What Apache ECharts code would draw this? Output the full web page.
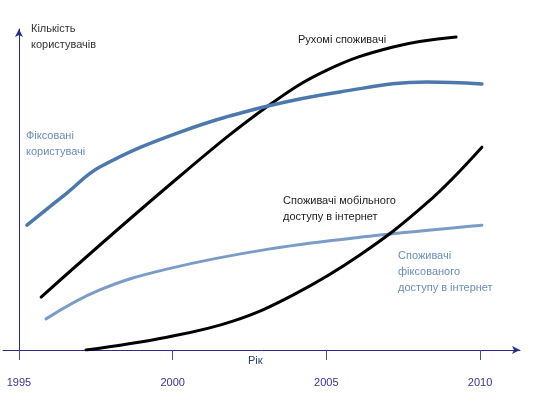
<!DOCTYPE html>
<html><head><meta charset="utf-8">
<script src="https://cdn.jsdelivr.net/npm/echarts@6/dist/echarts.min.js"></script>
<style>html,body{margin:0;padding:0;background:#fff}#c{width:539px;height:398px}</style>
</head><body><div id="c"></div>
<script>
const BASE_YEAR = 1995;
const tickYears = [1995, 2000, 2005, 2010];

// Рухомі споживачі
const mobileYears = [1995.72, 2000.24, 2003.10, 2005.02, 2007.17, 2009.22];
const mobileUsers = [16.5, 54.2, 76.0, 87.2, 94.4, 97.5];

// Фіксовані користувачі
const fixedYears = [1995.26, 1996.56, 1997.63, 2000.24, 2003.10, 2005.44, 2008.27, 2010.06];
const fixedUsers = [38.9, 48.9, 57.0, 67.9, 76.0, 80.4, 83.5, 82.9];

// Споживачі фіксованого доступу в інтернет
const fixedNetYears = [1995.88, 1997.63, 1999.81, 2003.17, 2006.75, 2010.06];
const fixedNetUsers = [9.7, 18.7, 25.2, 31.5, 35.8, 38.9];

// Споживачі мобільного доступу в інтернет
const mobileNetYears = [1997.18, 1999.81, 2001.96, 2003.91, 2006.09, 2008.27, 2010.06];
const mobileNetUsers = [0, 4.0, 9.0, 17.1, 29.6, 45.8, 63.2];

const toPts = (xs, ys) => xs.map((x, i) => [x - BASE_YEAR, ys[i]]);

const FONT = 'Liberation Sans, Arial, sans-serif';
const AXIS = '#2b2b8f';
const FS = '11px ';

const lineSeries = (xs, ys, color, width) => ({
  type: 'line', data: toPts(xs, ys), smooth: 0.4, showSymbol: false,
  lineStyle: {color: color, width: width, cap: 'round'}
});

const chart = echarts.init(document.getElementById('c'), null, {renderer: 'canvas'});
chart.setOption({
  animation: false,
  grid: {left: 3, right: 19, top: 29, bottom: 48},
  xAxis: {
    type: 'value', min: -0.52, max: 16.30,
    splitLine: {show: false},
    axisLine: {onZero: true, symbol: ['none', 'arrow'], symbolSize: [6, 8], lineStyle: {color: AXIS, width: 1}},
    axisTick: {show: true, length: 10, lineStyle: {color: '#4a4a9a'}, customValues: tickYears.map(y => y - BASE_YEAR)},
    axisLabel: {show: true, margin: 27, color: '#33339a', fontFamily: FONT, fontSize: 11,
      customValues: tickYears.map(y => y - BASE_YEAR), formatter: v => String(Math.round(v + BASE_YEAR))}
  },
  yAxis: {
    type: 'value', min: 0, max: 100,
    splitLine: {show: false},
    axisLine: {show: true, onZero: true, symbol: ['none', 'arrow'], symbolSize: [6, 8], lineStyle: {color: AXIS, width: 1}},
    axisTick: {show: false},
    axisLabel: {show: false}
  },
  series: [
    lineSeries(mobileYears, mobileUsers, '#000', 3),
    lineSeries(fixedYears, fixedUsers, '#4c78ad', 3.5),
    lineSeries(fixedNetYears, fixedNetUsers, '#7a9cc7', 3),
    lineSeries(mobileNetYears, mobileNetUsers, '#000', 3)
  ],
  graphic: [
    {type: 'text', left: 31, top: 21, style: {text: 'Кількість\nкористувачів', fill: '#333', font: FS + FONT, lineHeight: 16}},
    {type: 'text', left: 26, top: 128, style: {text: 'Фіксовані\nкористувачі', fill: '#6c8dbb', font: FS + FONT, lineHeight: 16}},
    {type: 'text', left: 298, top: 34, style: {text: 'Рухомі споживачі', fill: '#222', font: FS + FONT}},
    {type: 'text', left: 283, top: 193, style: {text: 'Споживачі мобільного\nдоступу в інтернет', fill: '#222', font: FS + FONT, lineHeight: 16}},
    {type: 'text', left: 398, top: 248, style: {text: 'Споживачі\nфіксованого\nдоступу в інтернет', fill: '#6c8dbb', font: FS + FONT, lineHeight: 16}},
    {type: 'text', left: 248, top: 355, style: {text: 'Рік', fill: '#33339a', font: FS + FONT}}
  ]
});
</script></body></html>
